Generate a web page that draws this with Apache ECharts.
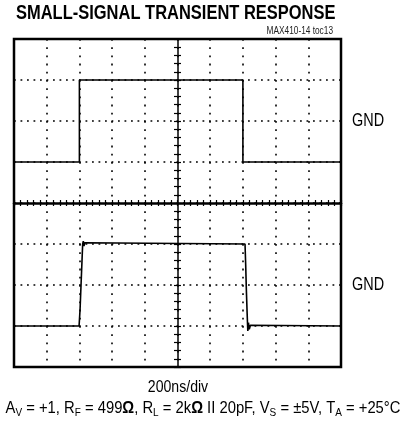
<!DOCTYPE html>
<html>
<head>
<meta charset="utf-8">
<script src="https://cdn.jsdelivr.net/npm/echarts@6/dist/echarts.min.js"></script>
<style>
  html, body { margin: 0; padding: 0; background: #fff; }
  #chart { width: 405px; height: 429px; }
</style>
</head>
<body>
<div id="chart"></div>
<script>
// time axis in ns (200ns/div, 10 div), vertical in divisions (8 div, centre = 0)
const timeRange = [0, 2000];
const divRange = [-4, 4];
// input step (upper trace), ground at +2 div
const inputTrace = [
  [0, 1], [400, 1], [400, 3], [1400, 3], [1400, 1], [2000, 1]
];
// output (lower trace), ground at -2 div
const outputTrace = [
  [0, -3], [398, -3], [404, -2.6], [410, -2.0], [416, -1.4], [420, -1.0],
  [424, -0.93], [428, -1.05], [433, -0.97], [440, -1.0], [1413, -1.0],
  [1417, -1.5], [1421, -2.1], [1426, -2.7], [1430, -3.12], [1434, -2.92],
  [1439, -3.08], [1446, -2.98], [1455, -3.0], [2000, -3.0]
];
const gndLevels = [2, -2];

const G = { left: 14, top: 39, width: 327, height: 328 };
const font = '"Liberation Sans", Arial, sans-serif';

let myChart = echarts.init(document.getElementById('chart'));

function centreX(inside) {
  return {
    type: 'value', min: timeRange[0], max: timeRange[1], interval: 200,
    position: 'bottom', offset: -G.height / 2,
    axisLine: { show: !inside, lineStyle: { color: '#000', width: 2.5 } },
    axisTick: { show: true, inside: inside, length: 3, lineStyle: { color: '#000', width: 1.2 } },
    minorTick: { show: true, splitNumber: 5, length: 3, lineStyle: { color: '#000', width: 1.2 } },
    axisLabel: { show: false },
    splitLine: inside ? { show: false } : {
      show: true, lineStyle: { color: '#000', width: 1.6, type: [1.8, 6.4], dashOffset: 0 }
    }
  };
}
function centreY(inside) {
  return {
    type: 'value', min: divRange[0], max: divRange[1], interval: 1,
    position: 'left', offset: -G.width / 2,
    axisLine: { show: !inside, lineStyle: { color: '#000', width: 1.5 } },
    axisTick: { show: true, inside: inside, length: 3.5, lineStyle: { color: '#000', width: 1.2 } },
    minorTick: { show: true, splitNumber: 5, length: 3.5, lineStyle: { color: '#000', width: 1.2 } },
    axisLabel: { show: false },
    splitLine: inside ? { show: false } : {
      show: true, lineStyle: { color: '#000', width: 1.6, type: [1.8, 4.7], dashOffset: 0 }
    }
  };
}

const sub = { fontSize: 11.5, fontFamily: font, verticalAlign: 'bottom', lineHeight: 13, color: '#000' };
const bold = { fontSize: 17, fontFamily: font, fontWeight: 'bold', lineHeight: 21, color: '#000' };

let option = {
  animation: false,
  grid: {
    left: G.left, top: G.top, width: G.width, height: G.height,
    containLabel: false, show: true, borderColor: '#000', borderWidth: 2.5,
    backgroundColor: 'transparent'
  },
  xAxis: [centreX(false), centreX(true)],
  yAxis: [centreY(false), centreY(true)],
  series: [
    {
      name: 'input', type: 'line', data: inputTrace, showSymbol: false,
      lineStyle: { color: '#000', width: 1.6 }, z: 5
    },
    {
      name: 'output', type: 'line', data: outputTrace, showSymbol: false,
      lineStyle: { color: '#000', width: 1.6 }, z: 5
    }
  ],
  graphic: [
    {
      type: 'text', x: 16, y: 14, scaleX: 0.845,
      style: { text: 'SMALL-SIGNAL TRANSIENT RESPONSE', fontSize: 19.5, fontWeight: 'bold', fontFamily: font, fill: '#000', verticalAlign: 'middle' }
    },
    {
      type: 'text', x: 333, y: 31, scaleX: 0.83,
      style: { text: 'MAX410-14 toc13', fontSize: 10, fontFamily: font, fill: '#222', align: 'right', verticalAlign: 'middle' }
    },
    {
      type: 'text', x: 178, y: 388, scaleX: 0.88,
      style: { text: '200ns/div', fontSize: 16, fontFamily: font, fill: '#000', align: 'center', verticalAlign: 'middle' }
    },
    {
      type: 'text', x: 203, y: 408, scaleX: 0.87,
      style: {
        text: 'A{s|V} = +1, R{s|F} = 499{o|Ω}, R{s|L} = 2k{o|Ω} II 20pF, V{s|S} = ±5V, T{s|A} = +25°C',
        align: 'center', verticalAlign: 'middle',
        fontSize: 17, fontFamily: font, fill: '#000', lineHeight: 21,
        rich: { s: sub, o: bold }
      }
    }
  ].concat(gndLevels.map(function (v) {
    return {
      type: 'text', scaleX: 0.78,
      x: G.left + G.width + 11, y: G.top + G.height * (divRange[1] - v) / (divRange[1] - divRange[0]),
      style: { text: 'GND', fontSize: 18.5, fontFamily: font, fill: '#000', verticalAlign: 'middle' }
    };
  }))
};

option && myChart.setOption(option);
</script>
</body>
</html>
